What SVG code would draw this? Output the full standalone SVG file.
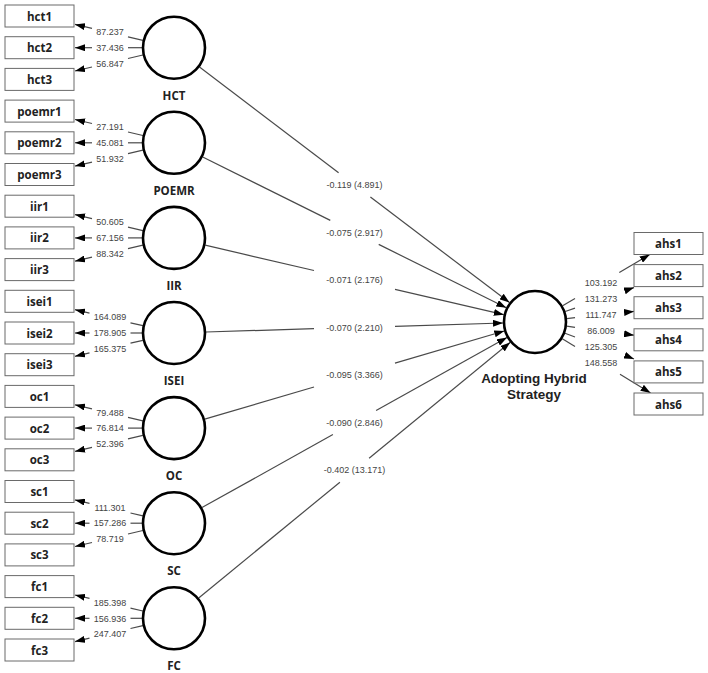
<svg xmlns="http://www.w3.org/2000/svg" width="708" height="673" viewBox="0 0 708 673">
<style>
.bx{fill:#fff;stroke:#6a6a6a;stroke-width:1}
.bt{font-family:"Open Sans","Liberation Sans",sans-serif;font-weight:bold;font-size:11.5px;fill:#222;text-anchor:middle}
.lv{fill:#fff;stroke:#000;stroke-width:2.6}
.lt{font-family:"Open Sans","Liberation Sans",sans-serif;font-weight:bold;font-size:11.5px;fill:#222;text-anchor:middle}
.ln{stroke:#4a4a4a;stroke-width:1.2;fill:none}
.ar{stroke:#4a4a4a;stroke-width:1.2;fill:none;marker-end:url(#ah)}
.nm{font-family:"Liberation Sans",Arial,sans-serif;font-size:9px;fill:#444;text-anchor:middle}
</style>
<defs>
<marker id="ah" markerUnits="userSpaceOnUse" markerWidth="10" markerHeight="7" refX="10" refY="3.5" orient="auto">
<path d="M0,0 L10,3.5 L0,7 z" fill="#000"/>
</marker>
</defs>
<rect width="708" height="673" fill="#fff"/>
<g id="connectors">
<!-- HCT loadings -->
<line class="ln" x1="142.9" y1="40.4" x2="128" y2="36.9"/><line class="ar" x1="92" y1="28.4" x2="75" y2="24.4"/>
<line class="ln" x1="142" y1="47.7" x2="128" y2="47.7"/><line class="ar" x1="92" y1="47.7" x2="75" y2="47.7"/>
<line class="ln" x1="142.9" y1="55" x2="128" y2="58.5"/><line class="ar" x1="92" y1="67" x2="75" y2="71"/>
<!-- POEMR loadings -->
<line class="ln" x1="142.9" y1="135.5" x2="128" y2="132"/><line class="ar" x1="92" y1="123.5" x2="75" y2="119.5"/>
<line class="ln" x1="142" y1="142.8" x2="128" y2="142.8"/><line class="ar" x1="92" y1="142.8" x2="75" y2="142.8"/>
<line class="ln" x1="142.9" y1="150.1" x2="128" y2="153.6"/><line class="ar" x1="92" y1="162.1" x2="75" y2="166.1"/>
<!-- IIR loadings -->
<line class="ln" x1="142.9" y1="230.6" x2="128" y2="227.1"/><line class="ar" x1="92" y1="218.6" x2="75" y2="214.6"/>
<line class="ln" x1="142" y1="237.9" x2="128" y2="237.9"/><line class="ar" x1="92" y1="237.9" x2="75" y2="237.9"/>
<line class="ln" x1="142.9" y1="245.2" x2="128" y2="248.7"/><line class="ar" x1="92" y1="257.2" x2="75" y2="261.2"/>
<!-- ISEI loadings -->
<line class="ln" x1="142.9" y1="325.7" x2="130.5" y2="322.8"/><line class="ar" x1="89.5" y1="313.1" x2="75" y2="309.7"/>
<line class="ln" x1="142" y1="333" x2="130.5" y2="333"/><line class="ar" x1="89.5" y1="333" x2="75" y2="333"/>
<line class="ln" x1="142.9" y1="340.3" x2="130.5" y2="343.2"/><line class="ar" x1="89.5" y1="352.9" x2="75" y2="356.3"/>
<!-- OC loadings -->
<line class="ln" x1="142.9" y1="420.8" x2="128" y2="417.3"/><line class="ar" x1="92" y1="408.8" x2="75" y2="404.8"/>
<line class="ln" x1="142" y1="428.1" x2="128" y2="428.1"/><line class="ar" x1="92" y1="428.1" x2="75" y2="428.1"/>
<line class="ln" x1="142.9" y1="435.4" x2="128" y2="438.9"/><line class="ar" x1="92" y1="447.4" x2="75" y2="451.4"/>
<!-- SC loadings -->
<line class="ln" x1="142.9" y1="515.9" x2="130.5" y2="513"/><line class="ar" x1="89.5" y1="503.3" x2="75" y2="499.9"/>
<line class="ln" x1="142" y1="523.2" x2="130.5" y2="523.2"/><line class="ar" x1="89.5" y1="523.2" x2="75" y2="523.2"/>
<line class="ln" x1="142.9" y1="530.5" x2="128" y2="534"/><line class="ar" x1="92" y1="542.5" x2="75" y2="546.5"/>
<!-- FC loadings -->
<line class="ln" x1="142.9" y1="611" x2="130.5" y2="608.1"/><line class="ar" x1="89.5" y1="598.4" x2="75" y2="595"/>
<line class="ln" x1="142" y1="618.3" x2="130.5" y2="618.3"/><line class="ar" x1="89.5" y1="618.3" x2="75" y2="618.3"/>
<line class="ln" x1="142.9" y1="625.6" x2="130.5" y2="628.5"/><line class="ar" x1="89.5" y1="638.2" x2="75" y2="641.6"/>
<!-- structural paths -->
<line class="ln" x1="199.5" y1="67.1" x2="338.6" y2="172.8"/><line class="ar" x1="370.4" y1="197" x2="509.5" y2="302.6"/>
<line class="ln" x1="202.7" y1="157" x2="330.3" y2="220.4"/><line class="ar" x1="378.7" y1="244.4" x2="506.3" y2="307.8"/>
<line class="ln" x1="205.2" y1="245.2" x2="314" y2="270.5"/><line class="ar" x1="395" y1="289.4" x2="503.8" y2="314.7"/>
<line class="ln" x1="206" y1="332" x2="314" y2="328.7"/><line class="ar" x1="395" y1="326.3" x2="503" y2="323"/>
<line class="ln" x1="204.7" y1="419.1" x2="314" y2="387"/><line class="ar" x1="395" y1="363.2" x2="504.3" y2="331"/>
<line class="ln" x1="202" y1="507.6" x2="332.9" y2="434.6"/><line class="ar" x1="376.1" y1="410.6" x2="507" y2="337.6"/>
<line class="ln" x1="198.7" y1="598" x2="339.9" y2="482.2"/><line class="ar" x1="369.1" y1="458.2" x2="510.3" y2="342.3"/>
<!-- AHS loadings -->
<line class="ln" x1="562.6" y1="305.8" x2="575" y2="298.5"/><line class="ar" x1="619.3" y1="272.4" x2="649.8" y2="254.5"/>
<line class="ln" x1="565.2" y1="311.5" x2="575" y2="308.1"/><line class="ar" x1="626" y1="290.4" x2="634" y2="287.6"/>
<line class="ln" x1="566.8" y1="318.6" x2="575" y2="317.7"/><line class="ar" x1="626" y1="312.3" x2="634" y2="311.4"/>
<line class="ln" x1="566.7" y1="326.2" x2="575" y2="327.3"/><line class="ar" x1="626" y1="334.1" x2="634" y2="335.2"/>
<line class="ln" x1="565" y1="333.2" x2="575" y2="337"/><line class="ar" x1="626" y1="355.7" x2="634" y2="359"/>
<line class="ln" x1="562.3" y1="338.7" x2="575" y2="346.5"/><line class="ar" x1="620" y1="374.2" x2="650.6" y2="393"/>
<!-- labels -->
<text class="nm" x="110" y="35.1">87.237</text><text class="nm" x="110" y="50.9">37.436</text><text class="nm" x="110" y="66.8">56.847</text>
<text class="nm" x="110" y="130.2">27.191</text><text class="nm" x="110" y="146">45.081</text><text class="nm" x="110" y="161.9">51.932</text>
<text class="nm" x="110" y="225.3">50.605</text><text class="nm" x="110" y="241.1">67.156</text><text class="nm" x="110" y="257">88.342</text>
<text class="nm" x="110" y="320.4">164.089</text><text class="nm" x="110" y="336.2">178.905</text><text class="nm" x="110" y="352.1">165.375</text>
<text class="nm" x="110" y="415.5">79.488</text><text class="nm" x="110" y="431.3">76.814</text><text class="nm" x="110" y="447.2">52.396</text>
<text class="nm" x="110" y="510.6">111.301</text><text class="nm" x="110" y="526.4">157.286</text><text class="nm" x="110" y="542.3">78.719</text>
<text class="nm" x="110" y="605.7">185.398</text><text class="nm" x="110" y="621.5">156.936</text><text class="nm" x="110" y="637.4">247.407</text>
<text class="nm" x="354.5" y="188">-0.119 (4.891)</text>
<text class="nm" x="354.5" y="235.6">-0.075 (2.917)</text>
<text class="nm" x="354.5" y="283.2">-0.071 (2.176)</text>
<text class="nm" x="354.5" y="330.7">-0.070 (2.210)</text>
<text class="nm" x="354.5" y="378.3">-0.095 (3.366)</text>
<text class="nm" x="354.5" y="425.8">-0.090 (2.846)</text>
<text class="nm" x="354.5" y="473.4">-0.402 (13.171)</text>
<text class="nm" x="601" y="286">103.192</text><text class="nm" x="601" y="302">131.273</text><text class="nm" x="601" y="318">111.747</text>
<text class="nm" x="601" y="334.1">86.009</text><text class="nm" x="601" y="350.2">125.305</text><text class="nm" x="601" y="366.2">148.558</text>
</g>
<g id="hct1"><rect class="bx" x="5" y="5" width="69" height="22"/><text class="bt" x="39.5" y="20.5">hct1</text></g>
<g id="hct2"><rect class="bx" x="5" y="36.7" width="69" height="22"/><text class="bt" x="39.5" y="52.2">hct2</text></g>
<g id="hct3"><rect class="bx" x="5" y="68.4" width="69" height="22"/><text class="bt" x="39.5" y="83.9">hct3</text></g>
<g id="poemr1"><rect class="bx" x="5" y="100.1" width="69" height="22"/><text class="bt" x="39.5" y="115.6">poemr1</text></g>
<g id="poemr2"><rect class="bx" x="5" y="131.8" width="69" height="22"/><text class="bt" x="39.5" y="147.3">poemr2</text></g>
<g id="poemr3"><rect class="bx" x="5" y="163.5" width="69" height="22"/><text class="bt" x="39.5" y="179">poemr3</text></g>
<g id="iir1"><rect class="bx" x="5" y="195.2" width="69" height="22"/><text class="bt" x="39.5" y="210.7">iir1</text></g>
<g id="iir2"><rect class="bx" x="5" y="226.9" width="69" height="22"/><text class="bt" x="39.5" y="242.4">iir2</text></g>
<g id="iir3"><rect class="bx" x="5" y="258.6" width="69" height="22"/><text class="bt" x="39.5" y="274.1">iir3</text></g>
<g id="isei1"><rect class="bx" x="5" y="290.3" width="69" height="22"/><text class="bt" x="39.5" y="305.8">isei1</text></g>
<g id="isei2"><rect class="bx" x="5" y="322" width="69" height="22"/><text class="bt" x="39.5" y="337.5">isei2</text></g>
<g id="isei3"><rect class="bx" x="5" y="353.7" width="69" height="22"/><text class="bt" x="39.5" y="369.2">isei3</text></g>
<g id="oc1"><rect class="bx" x="5" y="385.4" width="69" height="22"/><text class="bt" x="39.5" y="400.9">oc1</text></g>
<g id="oc2"><rect class="bx" x="5" y="417.1" width="69" height="22"/><text class="bt" x="39.5" y="432.6">oc2</text></g>
<g id="oc3"><rect class="bx" x="5" y="448.8" width="69" height="22"/><text class="bt" x="39.5" y="464.3">oc3</text></g>
<g id="sc1"><rect class="bx" x="5" y="480.5" width="69" height="22"/><text class="bt" x="39.5" y="496">sc1</text></g>
<g id="sc2"><rect class="bx" x="5" y="512.2" width="69" height="22"/><text class="bt" x="39.5" y="527.7">sc2</text></g>
<g id="sc3"><rect class="bx" x="5" y="543.9" width="69" height="22"/><text class="bt" x="39.5" y="559.4">sc3</text></g>
<g id="fc1"><rect class="bx" x="5" y="575.6" width="69" height="22"/><text class="bt" x="39.5" y="591.1">fc1</text></g>
<g id="fc2"><rect class="bx" x="5" y="607.3" width="69" height="22"/><text class="bt" x="39.5" y="622.8">fc2</text></g>
<g id="fc3"><rect class="bx" x="5" y="639" width="69" height="22"/><text class="bt" x="39.5" y="654.5">fc3</text></g>
<g id="HCT"><circle class="lv" cx="174" cy="47.7" r="31"/><text class="lt" x="174" y="99.7">HCT</text></g>
<g id="POEMR"><circle class="lv" cx="174" cy="142.8" r="31"/><text class="lt" x="174" y="194.8">POEMR</text></g>
<g id="IIR"><circle class="lv" cx="174" cy="237.9" r="31"/><text class="lt" x="174" y="289.9">IIR</text></g>
<g id="ISEI"><circle class="lv" cx="174" cy="333" r="31"/><text class="lt" x="174" y="385">ISEI</text></g>
<g id="OC"><circle class="lv" cx="174" cy="428.1" r="31"/><text class="lt" x="174" y="480.1">OC</text></g>
<g id="SC"><circle class="lv" cx="174" cy="523.2" r="31"/><text class="lt" x="174" y="575.2">SC</text></g>
<g id="FC"><circle class="lv" cx="174" cy="618.3" r="31"/><text class="lt" x="174" y="670">FC</text></g>
<g id="AHS"><circle class="lv" cx="535" cy="322" r="31"/>
<text x="534" y="383" font-family="'Liberation Sans',Arial,sans-serif" font-weight="bold" font-size="13.5" fill="#222" text-anchor="middle">Adopting Hybrid</text>
<text x="534" y="399" font-family="'Liberation Sans',Arial,sans-serif" font-weight="bold" font-size="13.5" fill="#222" text-anchor="middle">Strategy</text></g>
<g id="ahs1"><rect class="bx" x="634" y="232.5" width="69" height="22"/><text class="bt" x="668.5" y="248">ahs1</text></g>
<g id="ahs2"><rect class="bx" x="634" y="264.6" width="69" height="22"/><text class="bt" x="668.5" y="280.1">ahs2</text></g>
<g id="ahs3"><rect class="bx" x="634" y="296.7" width="69" height="22"/><text class="bt" x="668.5" y="312.2">ahs3</text></g>
<g id="ahs4"><rect class="bx" x="634" y="328.8" width="69" height="22"/><text class="bt" x="668.5" y="344.3">ahs4</text></g>
<g id="ahs5"><rect class="bx" x="634" y="360.9" width="69" height="22"/><text class="bt" x="668.5" y="376.4">ahs5</text></g>
<g id="ahs6"><rect class="bx" x="634" y="393" width="69" height="22"/><text class="bt" x="668.5" y="408.5">ahs6</text></g>
</svg>
